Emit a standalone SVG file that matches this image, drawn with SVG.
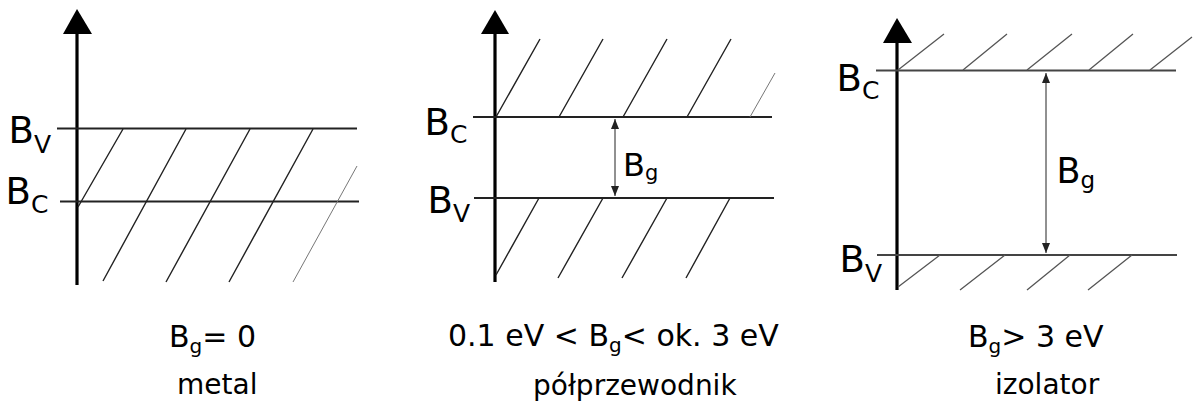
<svg xmlns="http://www.w3.org/2000/svg" width="1193" height="404" viewBox="0 0 1193 404">
<style>
text{font-family:"DejaVu Sans","Liberation Sans",sans-serif;fill:#000}
.axis{stroke:#000;stroke-width:3.2;fill:none}
.lvl{stroke:#222;stroke-width:2;fill:none}
.lvl3{stroke:#444;stroke-width:2;fill:none}
.h{stroke:#222;stroke-width:1.4;fill:none}
.hl{stroke:#777;stroke-width:1;fill:none}
.h3{stroke:#555;stroke-width:1.3;fill:none}
.gap{stroke:#222;stroke-width:1;fill:none;marker-start:url(#ga);marker-end:url(#ga)}
.lab{font-size:37px}
.sub{font-size:25px}
.cap{font-size:30px}
.cs{font-size:20px}
.nm{font-size:28px}
</style>
<defs>
<marker id="ga" viewBox="0 0 10 8" refX="10" refY="4" markerWidth="10" markerHeight="8" markerUnits="userSpaceOnUse" orient="auto-start-reverse">
<path d="M0,0 L10,4 L0,8 Z" fill="#222"/>
</marker>
</defs>

<g id="metal">
<path class="axis" d="M77,285 V32"/>
<path d="M63,34 L77,9 L92,34 Z" fill="#000"/>
<path class="lvl" d="M57,128.5 H357"/>
<path class="lvl" d="M60,201.5 H359"/>
<path class="h" d="M78,207 L123,129 M103,281 L186,129 M166,282 L250,129 M229,282 L313,129"/>
<path class="hl" d="M293,282 L357,166"/>
<text class="lab" x="8.5" y="143">B<tspan class="sub" dy="10">V</tspan></text>
<text class="lab" x="5.5" y="204">B<tspan class="sub" dy="9">C</tspan></text>
<text class="cap" x="169" y="347">B<tspan class="cs" dy="6">g</tspan><tspan dy="-6">= 0</tspan></text>
<text class="nm" x="177" y="394">metal</text>
</g>

<g id="polprzewodnik">
<path class="axis" d="M495,282 V32"/>
<path d="M481,34 L495,10 L509,34 Z" fill="#000"/>
<path class="lvl" d="M473,117 H772"/>
<path class="lvl" d="M474,198 H774"/>
<path class="h" d="M496,117 L540,39 M559,117 L603,39 M623,117 L667,39 M687,117 L731,39"/>
<path class="hl" d="M750,117 L775,73"/>
<path class="h" d="M496,275 L539,198 M558,278 L603,198 M622,278 L667,198 M686,278 L730,198"/>
<text class="lab" x="424.5" y="135">B<tspan class="sub" dy="8">C</tspan></text>
<text class="lab" x="427.5" y="213">B<tspan class="sub" dy="9">V</tspan></text>
<text style="font-size:32px" x="623" y="176">B<tspan style="font-size:21px" dy="4">g</tspan></text>
<text class="cap" x="448" y="346">0.1 eV &lt; B<tspan class="cs" dy="6">g</tspan><tspan dy="-6">&lt; ok. 3 eV</tspan></text>
<text class="nm" x="533" y="395">półprzewodnik</text>
</g>

<g id="izolator">
<path class="axis" d="M897,290 V41"/>
<path d="M883,43 L897,18 L912,43 Z" fill="#000"/>
<path class="lvl3" d="M876,70.5 H1176"/>
<path class="lvl3" d="M877,255 H1177"/>
<path class="h3" d="M898,70 L944,34 M963,70 L1007,34 M1027,70 L1072,34 M1089,70 L1133,34 M1150,70 L1192,37"/>
<path class="h3" d="M898,287 L940,255 M960,290 L1005,255 M1027,290 L1070,255 M1088,290 L1132,255"/>
<text class="lab" x="836.5" y="91">B<tspan class="sub" dy="8">C</tspan></text>
<text class="lab" x="839.5" y="272">B<tspan class="sub" dy="10">V</tspan></text>
<text style="font-size:35px" x="1056.5" y="183">B<tspan style="font-size:23px" dy="5">g</tspan></text>
<text class="cap" x="968" y="347">B<tspan class="cs" dy="6">g</tspan><tspan dy="-6">&gt; 3 eV</tspan></text>
<text class="nm" x="995" y="394">izolator</text>
</g>

<g id="connectors">
<path class="gap" d="M615,119 V196"/>
<path class="gap" d="M1046,73 V253"/>
</g>
</svg>
